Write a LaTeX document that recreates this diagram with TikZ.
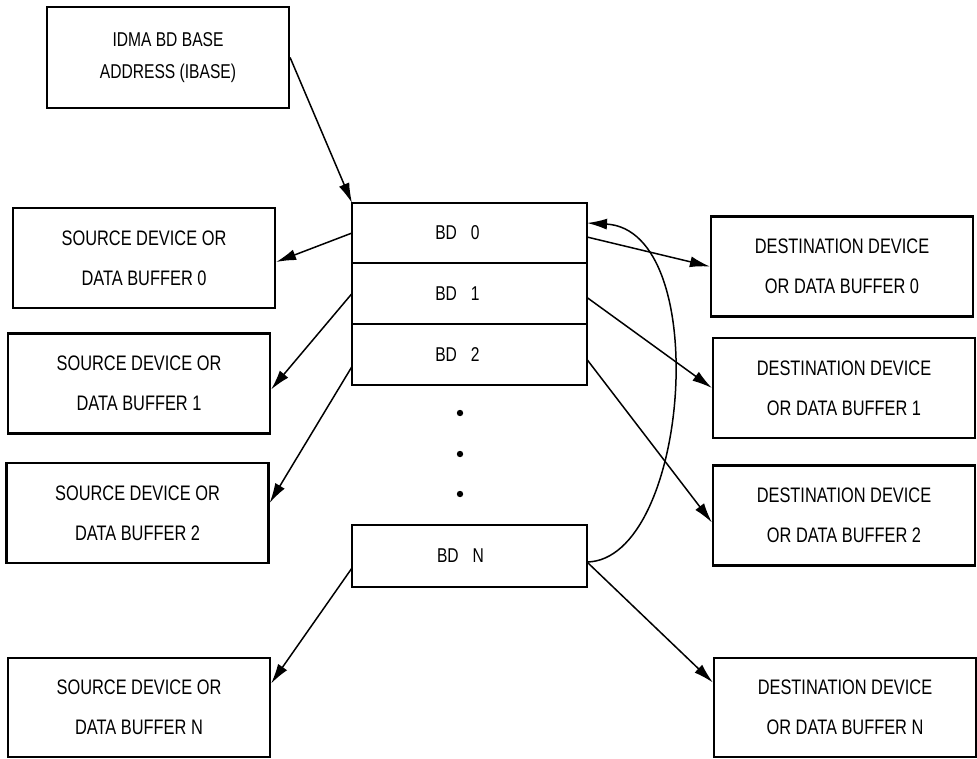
\documentclass[tikz,border=0pt]{standalone}
\usepackage{fontspec}
\setmainfont{Liberation Sans}[FakeStretch=0.78]
\usetikzlibrary{arrows.meta,positioning}

\begin{document}
\begin{tikzpicture}[x=1pt,y=-1pt,line width=1.5pt,>={Latex[length=20pt,width=11pt]},
  buf/.style={draw,line width=2.2pt,minimum width=262pt,minimum height=100pt,align=center,inner sep=0pt,font=\fontsize{21}{40}\selectfont},
  bdrow/.style={draw,line width=2.2pt,minimum width=235pt,minimum height=61pt,inner sep=0pt,outer sep=0pt,font=\fontsize{20}{24}\selectfont}]
  \useasboundingbox (0,0) rectangle (977,758);
  % base address
  \node[buf,minimum width=242pt,minimum height=101pt,font=\fontsize{20}{32}\selectfont] (ibase) at (168,57.5) {IDMA BD BASE\\ADDRESS (IBASE)};
  % descriptor table
  \node[bdrow,minimum height=60pt] (bd0) at (469.5,233) {BD\kern0.7em0\kern24pt\mbox{}};
  \node[bdrow,below=0pt of bd0] (bd1) {BD\kern0.7em1\kern24pt\mbox{}};
  \node[bdrow,below=0pt of bd1] (bd2) {BD\kern0.7em2\kern24pt\mbox{}};
  \foreach \y in {413,454,494} \fill (460,\y) circle (3.2pt);
  \node[bdrow,minimum height=62pt] (bdn) at (469.5,556) {BD\kern0.7emN\kern18pt\mbox{}};
  % sources
  \node[buf] (src0) at (144,258) {SOURCE DEVICE OR\\DATA BUFFER 0};
  \node[buf] (src1) at (139,383.5) {SOURCE DEVICE OR\\DATA BUFFER 1};
  \node[buf] (src2) at (137.5,513) {SOURCE DEVICE OR\\DATA BUFFER 2};
  \node[buf,minimum height=99pt] (srcn) at (139,707.5) {SOURCE DEVICE OR\\DATA BUFFER N};
  % destinations
  \node[buf] (dst0) at (842,266.5) {DESTINATION DEVICE\\OR DATA BUFFER 0};
  \node[buf] (dst1) at (844,388) {DESTINATION DEVICE\\OR DATA BUFFER 1};
  \node[buf] (dst2) at (844,515.5) {DESTINATION DEVICE\\OR DATA BUFFER 2};
  \node[buf,minimum height=99pt] (dstn) at (845,707.5) {DESTINATION DEVICE\\OR DATA BUFFER N};
  % arrows
  \draw[->] (ibase.east) -- (bd0.north west);
  \draw[->] (bd0.west) -- ([yshift=-4pt]src0.east);
  \draw[->] (bd1.west) -- ([yshift=-6pt]src1.east);
  \draw[->] ([yshift=-12pt]bd2.west) -- ([yshift=10pt]src2.east);
  \draw[->] ([yshift=-12pt]bdn.west) -- ([yshift=24pt]srcn.east);
  \draw[->] ([yshift=-4pt]bd0.east) -- (dst0.west);
  \draw[->] ([yshift=-4pt]bd1.east) -- (dst1.west);
  \draw[->] ([yshift=-5pt]bd2.east) -- ([yshift=-7pt]dst2.west);
  \draw[->] ([yshift=-6pt]bdn.east) -- ([yshift=25pt]dstn.west);
  % wrap back to first BD
  \draw[->] ([yshift=-6pt]bdn.east) .. controls +(102,-2) and +(127,7) .. ([yshift=10pt]bd0.east);
\end{tikzpicture}
\end{document}
